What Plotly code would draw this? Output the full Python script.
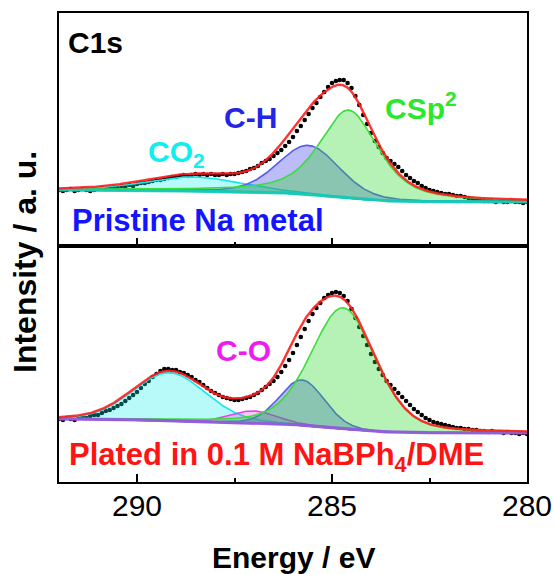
import numpy as np
import plotly.graph_objects as go

# ---------------- data ----------------
# binding energy grid of the measured points (eV), 292.0 -> 280.0
energy = [round(292 - 0.1 * i, 1) for i in range(121)]

# measured intensity (a.u.), pristine Na metal
top_counts = [56, 55, 56, 57, 55, 56, 57, 56, 55, 56, 57,
              58, 57, 58, 59, 58, 60, 59, 61, 60, 62,
              63, 63, 64, 65, 66, 66, 67, 68, 69, 69,
              70, 71, 70, 71, 72, 71, 72, 71, 72, 71, 71, 72, 71, 72, 72,
              73, 74, 75, 77, 78, 80, 83,
              85, 87, 90, 93, 96, 100, 104, 109, 115, 120, 126, 132, 138, 143,
              149, 154, 159, 163, 165, 166, 166, 163, 158, 150,
              141, 131, 122, 113, 105, 99, 93, 88,
              85, 82, 79, 75, 71, 68, 65, 63, 60, 58, 56,
              55, 54, 53, 52, 52, 51, 50, 50, 49, 48, 47, 46, 46, 45, 45, 45,
              44, 45, 44, 44, 45, 44, 44, 43, 44]

# measured intensity (a.u.), plated in 0.1 M NaBPh4/DME
bot_counts = [63, 62, 64, 63, 62, 64, 65, 64, 66, 67, 67,
              69, 71, 72, 74, 76, 78, 81, 84, 87, 90, 94, 98, 101, 105, 108,
              111, 113, 113, 112, 112,
              110, 109, 107, 105, 102, 100, 97, 94, 91, 89, 87, 85, 84, 83, 82,
              82, 83, 84, 85, 87, 89, 92,
              95, 98, 101, 105, 110, 116, 122, 129, 137, 145, 153, 161, 168, 174,
              179, 184, 187, 189, 190, 189, 186, 181,
              173, 164, 155, 146, 137, 128, 120, 113, 107, 101,
              97, 93, 89, 85, 81, 77, 73, 70, 67, 64, 62, 60, 59, 58, 57, 56,
              55, 54, 54, 53, 53, 52, 52, 51, 51, 50, 51, 50, 50, 49, 50, 49,
              49, 48, 49, 48]

# fitted components: centre (eV), FWHM (eV), height (a.u.), Lorentzian fraction
top_names = ["CO2", "C-H", "CSp2"]
top_center = [288.55, 285.60, 284.57]
top_fwhm = [2.9, 1.85, 1.78]
top_height = [14, 49, 88]
top_mix = [0.2, 0.2, 0.6]
top_bg = [56, 44]  # Shirley background at 292 eV and 280 eV

bot_names = ["CO2", "C-O", "C-H", "CSp2"]
bot_center = [289.17, 287.03, 285.77, 284.71]
bot_fwhm = [2.2, 1.4, 1.35, 1.95]
bot_height = [48, 12, 45, 121]
bot_mix = [0.1, 0.1, 0.1, 0.3]
bot_bg = [63, 49]

x_ticks = [290, 285, 280]
x_minor = [287.5, 282.5]

# ---------------- styling ----------------
comp_line = {"CO2": "#14e6e6", "C-H": "#5a5af0", "CSp2": "#3ddc3d", "C-O": "#ee3cee"}
comp_fill = {"CO2": "rgba(20,235,235,0.30)", "C-H": "rgba(70,70,235,0.36)",
             "CSp2": "rgba(40,215,40,0.34)", "C-O": "rgba(235,60,235,0.28)"}
FONT = "Liberation Sans, Arial, sans-serif"

E = np.linspace(292, 280, 601)


def pv(e, c, w, h, m):
    x = (e - c) / (w / 2)
    return h * (m / (1 + x ** 2) + (1 - m) * np.exp(-np.log(2) * x ** 2))


def fit(e, cs, ws, hs, ms, bg):
    comps = [pv(e, c, w, h, m) for c, w, h, m in zip(cs, ws, hs, ms)]
    tot = np.sum(comps, axis=0)
    order = np.argsort(e)
    cum = np.zeros_like(e)
    cum[order] = np.cumsum(tot[order])
    b = bg[1] + (bg[0] - bg[1]) * cum / cum.max()
    return comps, b


fig = go.Figure()


def add_panel(counts, names, cs, ws, hs, ms, bg, xa, ya, bgcolor):
    comps, b = fit(E, cs, ws, hs, ms, bg)
    fig.add_trace(go.Scatter(x=energy, y=counts, mode="markers",
                             marker=dict(color="black", size=4.6),
                             xaxis=xa, yaxis=ya, showlegend=False))
    for n, c in zip(names, comps):
        xs = list(E) + list(E[::-1])
        ys = list(b + c) + list(b[::-1])
        fig.add_trace(go.Scatter(x=xs, y=ys, mode="lines", fill="toself",
                                 fillcolor=comp_fill[n],
                                 line=dict(color=comp_line[n], width=1.6),
                                 xaxis=xa, yaxis=ya, showlegend=False))
    fig.add_trace(go.Scatter(x=E, y=b, mode="lines",
                             line=dict(color=bgcolor, width=3.2),
                             xaxis=xa, yaxis=ya, showlegend=False))
    env = b + np.sum(comps, axis=0)
    fig.add_trace(go.Scatter(x=E, y=env, mode="lines",
                             line=dict(color="rgba(255,30,30,0.9)", width=2.4),
                             xaxis=xa, yaxis=ya, showlegend=False))


add_panel(top_counts, top_names, top_center, top_fwhm, top_height, top_mix,
          top_bg, "x2", "y2", "rgba(20,200,190,0.9)")
add_panel(bot_counts, bot_names, bot_center, bot_fwhm, bot_height, bot_mix,
          bot_bg, "x", "y", "rgba(150,85,225,0.9)")

split = 236 / 469
axis_common = dict(showline=True, mirror=True, linecolor="black", linewidth=2,
                   showgrid=False, zeroline=False, automargin=False)
xcommon = dict(axis_common, range=[292, 280], tickvals=x_ticks, ticks="inside",
               ticklen=8, tickwidth=2, tickcolor="black",
               minor=dict(tickvals=x_minor, ticks="inside", ticklen=4,
                          tickwidth=2, tickcolor="black"))

fig.update_layout(
    width=555, height=574,
    margin=dict(l=59, r=28, t=13, b=92, autoexpand=False),
    paper_bgcolor="white", plot_bgcolor="white",
    font=dict(family=FONT, color="black"),
    xaxis=dict(xcommon, anchor="y", domain=[0, 1], ticklabelstandoff=-4,
               tickfont=dict(size=30, family=FONT, color="black")),
    xaxis2=dict(xcommon, anchor="y2", matches="x", showticklabels=False),
    yaxis=dict(axis_common, domain=[0, split], range=[0, 236],
               showticklabels=False, ticks=""),
    yaxis2=dict(axis_common, domain=[split, 1], range=[0, 233],
                showticklabels=False, ticks=""),
    showlegend=False,
)


def px_x(p):
    return (p - 59) / 468


def px_y(p):
    return (482 - p) / 469


def ann(text, x, y, color, size=30, xanchor="center", angle=0, bold=True):
    fig.add_annotation(text=f"<b>{text}</b>" if bold else text,
                       x=x, y=y, xref="paper", yref="paper",
                       xanchor=xanchor, yanchor="middle", showarrow=False,
                       textangle=angle,
                       font=dict(size=size, color=color, family=FONT))


ann("C1s", px_x(66), px_y(42), "black", xanchor="left")
ann("CO<sub>2</sub>", px_x(176), px_y(153), "#10eeee", size=30)
ann("C-H", px_x(250), px_y(118), "#2424e6", size=30)
ann("CSp<sup>2</sup>", px_x(421), px_y(106), "#2ae82a", size=30)
ann("Pristine Na metal", px_x(70), px_y(220), "#1414ff", size=31, xanchor="left")
ann("C-O", px_x(243), px_y(350), "#ee1cee", size=30)
ann("Plated in 0.1 M NaBPh<sub>4</sub>/DME", px_x(67), px_y(457), "#ff1414",
    size=31, xanchor="left")
ann("Intensity / a. u.", px_x(25), px_y(262), "black", size=32, angle=-90)
ann("Energy / eV", 0.5, px_y(557), "black", size=30)

fig.write_html("out.html")
